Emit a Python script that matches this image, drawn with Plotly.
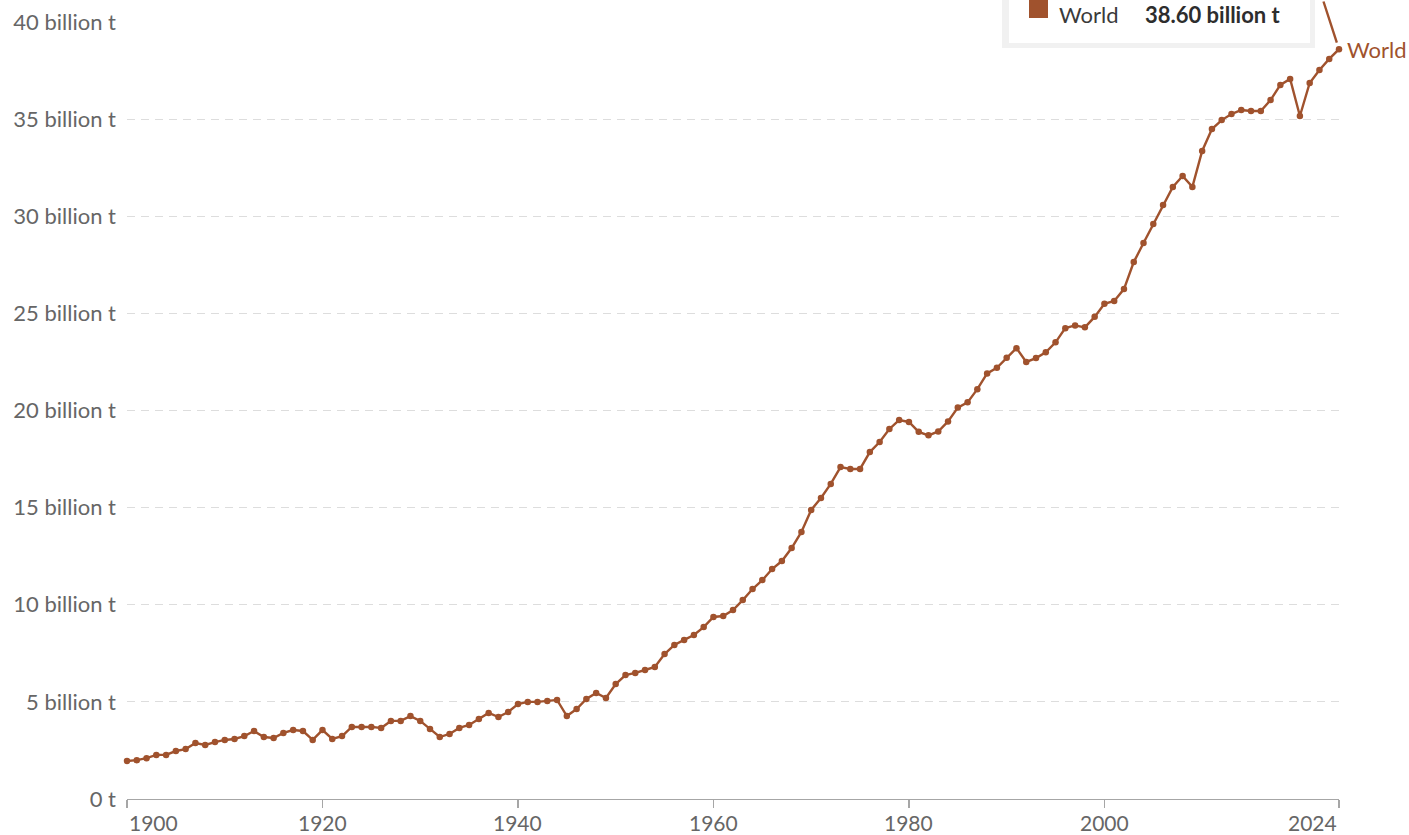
import plotly.graph_objects as go

years = list(range(1900, 2025))
emissions_bt = [
    1.96, 2.00, 2.10, 2.27, 2.27, 2.47, 2.57, 2.88, 2.78, 2.93,   # 1900-1909
    3.04, 3.09, 3.24, 3.50, 3.19, 3.14, 3.40, 3.55, 3.50, 3.04,   # 1910-1919
    3.55, 3.09, 3.24, 3.71, 3.71, 3.71, 3.66, 4.02, 4.02, 4.27,   # 1920-1929
    4.02, 3.60, 3.19, 3.35, 3.66, 3.81, 4.12, 4.43, 4.22, 4.48,   # 1930-1939
    4.89, 5.00, 5.00, 5.05, 5.10, 4.27, 4.63, 5.15, 5.46, 5.20,   # 1940-1949
    5.92, 6.38, 6.49, 6.64, 6.80, 7.46, 7.93, 8.19, 8.44, 8.85,   # 1950-1959
    9.37, 9.42, 9.73, 10.24, 10.81, 11.27, 11.84, 12.25, 12.92, 13.75,  # 1960-1969
    14.88, 15.50, 16.22, 17.09, 16.99, 16.99, 17.86, 18.38, 19.05, 19.51,  # 1970-1979
    19.41, 18.90, 18.72, 18.92, 19.44, 20.15, 20.42, 21.10, 21.91, 22.20,  # 1980-1989
    22.72, 23.21, 22.50, 22.70, 23.00, 23.51, 24.24, 24.38, 24.28, 24.82,  # 1990-1999
    25.49, 25.64, 26.25, 27.64, 28.62, 29.60, 30.58, 31.51, 32.07, 31.51,  # 2000-2009
    33.36, 34.49, 34.95, 35.26, 35.47, 35.42, 35.42, 35.98, 36.76, 37.07,  # 2010-2019
    35.16, 36.86, 37.53, 38.10, 38.60,                                      # 2020-2024
]

series_name = "World"
y_tick_vals = [0, 5, 10, 15, 20, 25, 30, 35, 40]
y_tick_text = ["0 t"] + [f"{v} billion t" for v in y_tick_vals[1:]]
x_tick_vals = [1900, 1920, 1940, 1960, 1980, 2000, 2024]
x_tick_text = [str(v) for v in x_tick_vals]

COLOR = "#a0522d"
FONT = "Lato, 'Open Sans', sans-serif"
TICK_COLOR = "#666666"

W, H = 1409, 835
ML, MR, MT, MB = 127, 70, 22, 36
PW, PH = W - ML - MR, H - MT - MB


def px_x(px):
    return (px - ML) / PW


def px_y(py):
    return 1 - (py - MT) / PH


fig = go.Figure()
fig.add_trace(go.Scatter(
    x=years, y=emissions_bt, mode="lines+markers", name=series_name,
    line=dict(color=COLOR, width=2.4),
    marker=dict(color=COLOR, size=6.5),
    cliponaxis=False, showlegend=False, hoverinfo="skip",
))

# tooltip box (cut off at top)
fig.add_shape(type="rect", xref="paper", yref="paper",
              x0=px_x(1002), x1=px_x(1315), y0=px_y(48), y1=px_y(-20),
              line=dict(width=0), fillcolor="#f1f1f1", layer="above")
fig.add_shape(type="rect", xref="paper", yref="paper",
              x0=px_x(1009), x1=px_x(1310), y0=px_y(43), y1=px_y(-20),
              line=dict(width=0), fillcolor="#ffffff", layer="above")
fig.add_shape(type="rect", xref="paper", yref="paper",
              x0=px_x(1029), x1=px_x(1048), y0=px_y(18), y1=px_y(-2),
              line=dict(width=0), fillcolor=COLOR, layer="above")
fig.add_annotation(xref="paper", yref="paper", x=px_x(1058), y=px_y(0),
                   xanchor="left", yanchor="top", showarrow=False, borderpad=0,
                   text=series_name, font=dict(family=FONT, size=22, color="#3a3a3a"))
fig.add_annotation(xref="paper", yref="paper", x=px_x(1144), y=px_y(0),
                   xanchor="left", yanchor="top", showarrow=False, borderpad=0,
                   text=f"<b>{emissions_bt[-1]:.2f} billion t</b>",
                   font=dict(family=FONT, size=22, color="#2d2d2d"))

# pointer line to last point
fig.add_annotation(x=years[-1], y=emissions_bt[-1], xref="x", yref="y",
                   ax=-16, ay=-56, showarrow=True, arrowhead=0, arrowwidth=2.4,
                   arrowcolor=COLOR, standoff=7, text="")

# series label
fig.add_annotation(x=years[-1], y=emissions_bt[-1], xref="x", yref="y",
                   xanchor="left", yanchor="middle", xshift=6, showarrow=False,
                   text=series_name, font=dict(family=FONT, size=22, color=COLOR))

# x tick labels drawn as text below the axis (first left-aligned, last right-aligned)
for i, (v, t) in enumerate(zip(x_tick_vals, x_tick_text)):
    anchor = "left" if i == 0 else ("right" if i == len(x_tick_vals) - 1 else "center")
    fig.add_annotation(x=v, y=0, xref="x", yref="paper",
                       xanchor=anchor, yanchor="top", yshift=-9, showarrow=False,
                       text=t, font=dict(family=FONT, size=21, color=TICK_COLOR))

fig.update_layout(
    width=W, height=H,
    margin=dict(l=ML, r=MR, t=MT, b=MB, pad=0, autoexpand=False),
    paper_bgcolor="white", plot_bgcolor="white",
    font=dict(family=FONT, size=22, color=TICK_COLOR),
    hovermode=False,
    xaxis=dict(
        range=[1900, 2024], tickmode="array", tickvals=x_tick_vals, showticklabels=False,
        showgrid=False, zeroline=False, showline=True, linecolor="#a6a6a6", linewidth=1.2,
        ticks="outside", ticklen=8, tickcolor="#a6a6a6", tickwidth=1.2, automargin=False,
    ),
    yaxis=dict(
        range=[0, 40], tickmode="array", tickvals=y_tick_vals, ticktext=y_tick_text,
        showgrid=True, gridcolor="#dddddd", gridwidth=1.2, griddash="8px,6px",
        zeroline=False, showline=False, ticks="", ticklabelstandoff=10, automargin=False,
        tickfont=dict(family=FONT, size=22, color=TICK_COLOR),
    ),
)

fig.write_html(
    "out.html",
    config={"displayModeBar": False, "staticPlot": True},
    post_script="document.body.style.margin='0';document.body.style.overflow='hidden';",
)
